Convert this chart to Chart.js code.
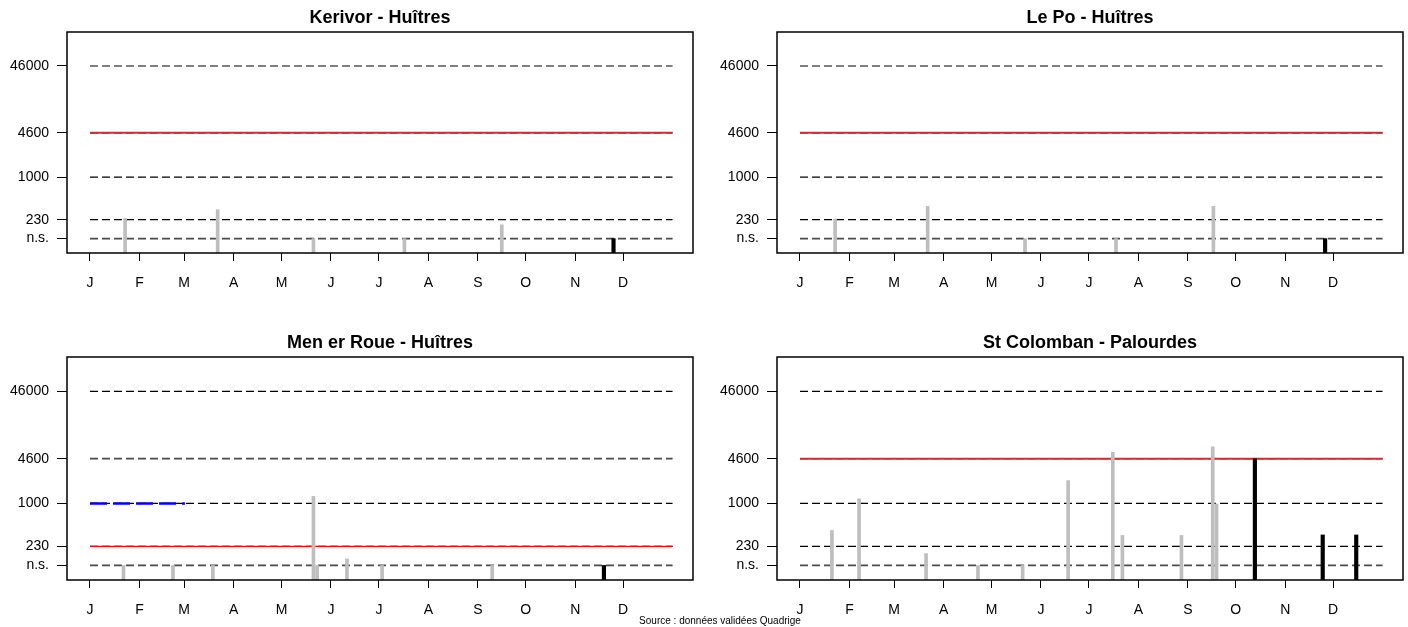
<!DOCTYPE html>
<html>
<head>
<meta charset="utf-8">
<script src="https://cdn.jsdelivr.net/npm/chart.js@4"></script>
<style>
body { margin: 0; background: #fff; width: 1408px; height: 627px; position: relative; overflow: hidden; }
canvas { position: absolute; }
#source { position: absolute; left: 560px; width: 320px; top: 615px; text-align: center;
  font: 10px "Liberation Sans", Arial, sans-serif; color: #000; }
</style>
</head>
<body>
<canvas id="c1" width="704" height="300" style="left:0;top:0"></canvas>
<canvas id="c2" width="704" height="300" style="left:704px;top:0"></canvas>
<canvas id="c3" width="704" height="302" style="left:0;top:325px"></canvas>
<canvas id="c4" width="704" height="302" style="left:704px;top:325px"></canvas>
<div id="source">Source : données validées Quadrige</div>
<script>
// axes
const MONTH_DAYS = [0, 31, 59, 90, 120, 151, 181, 212, 243, 273, 304, 334];
const MONTH_LABELS = ["J", "F", "M", "A", "M", "J", "J", "A", "S", "O", "N", "D"];
const NS = 120;
const Y_TICKS = [NS, 230, 1000, 4600, 46000];
const Y_LABELS = ["n.s.", "230", "1000", "4600", "46000"];
const Y_MIN = 73, Y_MAX = 148500;
const X_MIN = -14.4, X_MAX = 377.8;
const LINE_START = 0, LINE_END = 365;

// Kerivor - Huîtres
const kerivorDays = [22, 80, 140, 197, 258];
const kerivorValues = [240, 325, NS, NS, 193];
const kerivorLastDays = [328];
const kerivorLastValues = [NS];

// Le Po - Huîtres
const lepoDays = [22, 80, 141, 198, 259];
const lepoValues = [235, 364, NS, NS, 364];
const lepoLastDays = [329];
const lepoLastValues = [NS];

// Men er Roue - Huîtres
const menDays = [21, 52, 77, 140, 142.3, 161, 183, 252];
const menValues = [NS, NS, NS, 1270, NS, 150, NS, NS];
const menLastDays = [322];
const menLastValues = [NS];
const menBlueDays = [0, 59.5];
const menBlueValue = 1000;

// St Colomban - Palourdes
const colDays = [20, 37, 79, 111.5, 139.5, 168, 196, 202, 239, 258.6, 261];
const colValues = [396, 1170, 180, NS, NS, 2180, 5700, 334, 334, 6900, 980];
const colLastDays = [285, 327.5, 348.5];
const colLastValues = [4600, 340, 340];

const FONT = '"Liberation Sans", Arial, Helvetica, sans-serif';

const boxPlugin = {
    id: "box",
    afterDraw(chart) {
        const ctx = chart.ctx;
        const a = chart.chartArea;
        ctx.save();
        ctx.strokeStyle = "#000";
        ctx.lineWidth = 1.5;
        ctx.strokeRect(a.left, a.top, a.right - a.left, a.bottom - a.top);
        ctx.restore();
    }
};

const pts = (days, vals) => days.map((d, i) => ({x: d, y: vals[i]}));

const hline = (y, color, width, dash, order) => ({
    type: "line",
    data: [{x: LINE_START, y: y}, {x: LINE_END, y: y}],
    borderColor: color,
    borderWidth: width,
    borderDash: dash,
    pointRadius: 0,
    fill: false,
    order: order
});

const draw_panel = (id, title, p) => {
    const datasets = [
        {type: "bar", data: pts(p.days, p.values), backgroundColor: "#bebebe",
         barThickness: 3, grouped: false, base: Y_MIN, order: 0},
        {type: "bar", data: pts(p.lastDays, p.lastValues), backgroundColor: "#000",
         barThickness: 3.5, grouped: false, base: Y_MIN, order: 0}
    ];
    Y_TICKS.forEach(v => {
        const gray = v === NS || (v === 4600 && p.threshold !== 4600);
        datasets.push(hline(v, gray ? "#4a4a4a" : "#000", gray ? 1.8 : 1.2, [8, 4], 3));
    });
    datasets.push(hline(p.threshold, p.threshold === 4600 ? "#d42c2c" : "#ff0000",
        p.threshold === 4600 ? 2 : 1.3, [], 2));
    if (p.blue) {
        datasets.push({type: "line", data: p.blue, borderColor: "#0000ff", borderWidth: 2.5,
            borderDash: [17, 6], pointRadius: 0, fill: false, order: 1});
    }

    new Chart(document.getElementById(id), {
        type: "bar",
        data: {datasets: datasets},
        options: {
            responsive: false,
            animation: false,
            devicePixelRatio: 1,
            layout: {padding: {left: 0, right: p.right, top: 0, bottom: 0}},
            plugins: {
                legend: {display: false},
                tooltip: {enabled: false},
                title: {
                    display: true, text: title, color: "#000", fullSize: false,
                    font: {family: FONT, size: 18, weight: "bold", lineHeight: 1.2},
                    padding: {top: 7, bottom: 3.4}
                }
            },
            scales: {
                x: {
                    type: "linear", min: X_MIN, max: X_MAX, offset: false,
                    afterFit: s => { s.height = 47; },
                    afterBuildTicks: s => { s.ticks = MONTH_DAYS.map(v => ({value: v})); },
                    border: {display: false},
                    grid: {offset: false, drawOnChartArea: false, drawTicks: true, tickLength: 8, color: "#000"},
                    ticks: {
                        autoSkip: false, maxRotation: 0, padding: 14, color: "#000",
                        font: {family: FONT, size: 14},
                        callback: (v, i) => MONTH_LABELS[i]
                    }
                },
                y: {
                    type: "logarithmic", min: Y_MIN, max: Y_MAX,
                    afterFit: s => { s.width = p.left; },
                    afterBuildTicks: s => { s.ticks = Y_TICKS.map(v => ({value: v})); },
                    border: {display: false},
                    grid: {drawOnChartArea: false, drawTicks: true, tickLength: 10, color: "#000"},
                    ticks: {
                        autoSkip: false, padding: 8, color: "#000",
                        font: {family: FONT, size: 14},
                        callback: v => Y_LABELS[Y_TICKS.indexOf(v)]
                    }
                }
            }
        },
        plugins: [boxPlugin]
    });
};

draw_panel("c1", "Kerivor - Huîtres", {
    days: kerivorDays, values: kerivorValues, lastDays: kerivorLastDays, lastValues: kerivorLastValues,
    threshold: 4600, left: 67, right: 11
});
draw_panel("c2", "Le Po - Huîtres", {
    days: lepoDays, values: lepoValues, lastDays: lepoLastDays, lastValues: lepoLastValues,
    threshold: 4600, left: 73, right: 5
});
draw_panel("c3", "Men er Roue - Huîtres", {
    days: menDays, values: menValues, lastDays: menLastDays, lastValues: menLastValues,
    threshold: 230, left: 67, right: 11,
    blue: pts(menBlueDays, [menBlueValue, menBlueValue])
});
draw_panel("c4", "St Colomban - Palourdes", {
    days: colDays, values: colValues, lastDays: colLastDays, lastValues: colLastValues,
    threshold: 4600, left: 73, right: 5
});
</script>
</body>
</html>
